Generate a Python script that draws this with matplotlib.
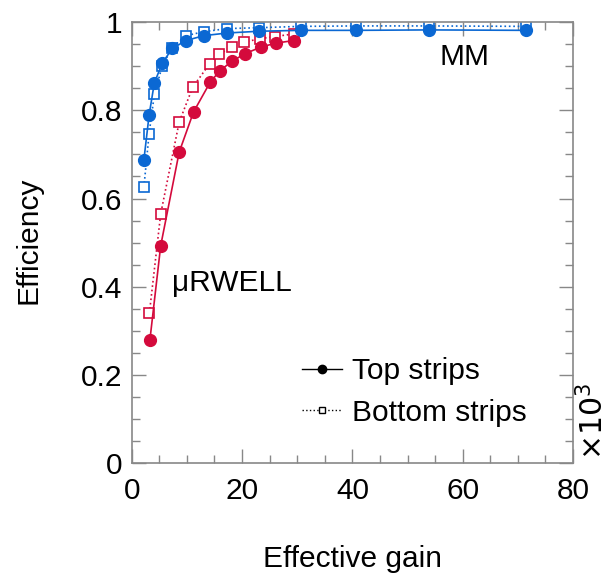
import matplotlib
matplotlib.use("Agg")
import matplotlib.pyplot as plt
from matplotlib.lines import Line2D
from matplotlib.ticker import MultipleLocator

plt.rcParams['font.family'] = ['Liberation Sans', 'DejaVu Sans']

# gain in units of 10^3
mm_gain = [2.2, 3.15, 4.1, 5.55, 7.35, 9.85, 13.1, 17.3, 23.1, 30.6, 40.6, 53.9, 71.5]
mm_top = [0.687, 0.789, 0.862, 0.907, 0.940, 0.958, 0.969, 0.975, 0.979, 0.981, 0.981, 0.982, 0.981]
mm_bottom = [0.625, 0.747, 0.836, 0.901, 0.942, 0.969, 0.978, 0.985, 0.987, 0.990, 0.991, 0.991, 0.990]

rw_gain = [3.3, 5.25, 8.6, 11.2, 14.2, 16.0, 18.2, 20.5, 23.4, 26.1, 29.4]
rw_top = [0.280, 0.493, 0.705, 0.796, 0.863, 0.890, 0.911, 0.928, 0.943, 0.952, 0.958]
rw_gain_b = [3.2, 5.25, 8.6, 11.05, 14.1, 15.9, 18.1, 20.3, 23.2, 26.0, 29.4]
rw_bottom = [0.340, 0.565, 0.773, 0.852, 0.905, 0.927, 0.943, 0.954, 0.962, 0.967, 0.973]

blue = '#0b68d3'
red = '#d40a3c'
fs = 21.5

fig = plt.figure(figsize=(6.09, 5.78), dpi=100)
ax = fig.add_axes([0.2163, 0.1984, 0.7247, 0.7636])

# bottom strips first, top strips drawn over
ax.plot(mm_gain, mm_bottom, color=blue, ls=':', lw=1.2, marker='s', ms=7,
        mfc='white', mec=blue, mew=1.2)
ax.plot(rw_gain_b, rw_bottom, color=red, ls=':', lw=1.2, marker='s', ms=7,
        mfc='white', mec=red, mew=1.2)
ax.plot(mm_gain, mm_top, color=blue, ls='-', lw=1.2, marker='o', ms=8.5, mec=blue)
ax.plot(rw_gain, rw_top, color=red, ls='-', lw=1.2, marker='o', ms=8.5, mec=red)

ax.set_xlim(0, 80)
ax.set_ylim(0, 1)
ax.xaxis.set_major_locator(MultipleLocator(20))
ax.xaxis.set_minor_locator(MultipleLocator(5))
ax.yaxis.set_major_locator(MultipleLocator(0.2))
ax.yaxis.set_minor_locator(MultipleLocator(0.05))
ax.set_yticks([0, 0.2, 0.4, 0.6, 0.8, 1.0])
ax.set_yticklabels(['0', '0.2', '0.4', '0.6', '0.8', '1'])

ax.tick_params(which='both', direction='in', top=True, right=True,
               color='#888888', labelsize=fs)
ax.tick_params(which='major', length=10, width=1, pad=7)
ax.tick_params(axis='x', which='major', pad=10)
ax.tick_params(which='minor', length=6, width=1)
for s in ax.spines.values():
    s.set_color('#888888')
    s.set_linewidth(1.2)

ax.set_xlabel('Effective gain', fontsize=fs)
ax.set_ylabel('Efficiency', fontsize=fs)
ax.xaxis.set_label_coords(0.5, -0.185)
ax.yaxis.set_label_coords(-0.203, 0.505)

ax.text(60.4, 0.921, 'MM', fontsize=fs, ha='center', va='center')
ax.text(18.2, 0.409, 'μRWELL', fontsize=fs, ha='center', va='center')
ax.text(1.045, 0.095, r'$\times10^{3}$', transform=ax.transAxes, rotation=90,
        fontsize=fs, ha='center', va='center')

handles = [
    Line2D([0], [0], color='black', ls='-', lw=1, marker='o', ms=6),
    Line2D([0], [0], color='black', ls=':', lw=1, marker='s', ms=5,
           mfc='white', mew=1),
]
ax.legend(handles, ['Top strips', 'Bottom strips'], loc='upper left',
          bbox_to_anchor=(0.385, 0.24), frameon=False, fontsize=fs,
          handlelength=1.35, handletextpad=0.35, labelspacing=0.45,
          borderpad=0, borderaxespad=0)

fig.savefig('out.png', dpi=100)
